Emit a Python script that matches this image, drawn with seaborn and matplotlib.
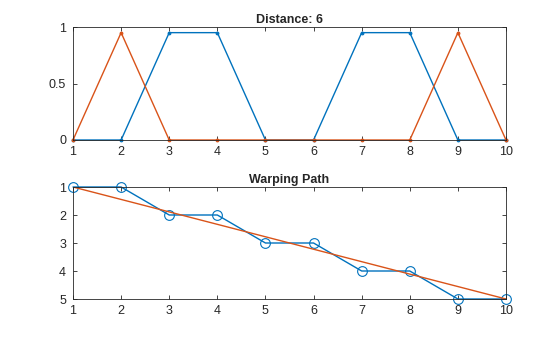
import matplotlib
matplotlib.use("Agg")
import matplotlib.pyplot as plt
import seaborn as sns
import numpy as np

sns.set_style("white")
plt.rcParams['font.family'] = ['Liberation Sans', 'DejaVu Sans']

idx = [1, 2, 3, 4, 5, 6, 7, 8, 9, 10]
sig_x = [0, 0, 0.95, 0.95, 0, 0, 0.95, 0.95, 0, 0]
sig_y = [0, 0.95, 0, 0, 0, 0, 0, 0, 0.95, 0]
path_i = [1, 2, 3, 4, 5, 6, 7, 8, 9, 10]
path_j = [1, 1, 2, 2, 3, 3, 4, 4, 5, 5]
diag_x = [1, 10]
diag_y = [1, 5]
title_top = "Distance: 6"
title_bot = "Warping Path"

blue = "#0072BD"
orange = "#D95319"

fig = plt.figure(figsize=(5.6, 3.37), dpi=100)
ax1 = fig.add_axes([73/560, 1-140/337, (506-73)/560, (140-27)/337])
ax2 = fig.add_axes([73/560, 1-299/337, (506-73)/560, (299-187)/337])

sns.lineplot(x=idx, y=sig_x, ax=ax1, color=blue, marker='.', markersize=4,
             markeredgecolor=blue, linewidth=1, clip_on=False)
sns.lineplot(x=idx, y=sig_y, ax=ax1, color=orange, marker='.', markersize=4,
             markeredgecolor=orange, linewidth=1, clip_on=False)
ax1.set_xlim(1, 10)
ax1.set_ylim(0, 1)
ax1.set_xticks(idx)
ax1.set_yticks([0, 0.5, 1])
ax1.set_yticklabels(["0", "0.5", "1"])
ax1.set_title(title_top, fontsize=9, fontweight='bold', pad=3)

sns.lineplot(x=path_i, y=path_j, ax=ax2, color=blue, marker='o', markersize=7,
             markerfacecolor='none', markeredgecolor=blue, markeredgewidth=0.8,
             linewidth=1, clip_on=False)
sns.lineplot(x=diag_x, y=diag_y, ax=ax2, color=orange, linewidth=1)
ax2.set_xlim(1, 10)
ax2.set_ylim(5, 1)
ax2.set_xticks(idx)
ax2.set_yticks([1, 2, 3, 4, 5])
ax2.set_title(title_bot, fontsize=9, fontweight='bold', pad=3)

for ax in (ax1, ax2):
    for s in ax.spines.values():
        s.set_visible(True)
        s.set_color('#262626')
        s.set_linewidth(0.6)
    ax.tick_params(direction='in', length=3, width=0.6, top=True, right=True,
                   left=True, bottom=True, labelsize=9, colors='#262626')
    ax.tick_params(axis='x', pad=4)
    ax.tick_params(axis='y', pad=5)
    ax.set_xlabel("")
    ax.set_ylabel("")

fig.savefig("out.png", dpi=100)
